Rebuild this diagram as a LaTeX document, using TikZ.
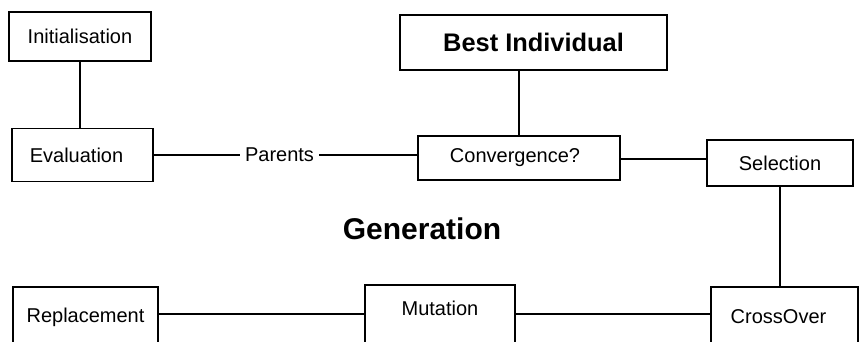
\documentclass[tikz,border=0pt]{standalone}
\usepackage{fontspec}
\setmainfont{Liberation Sans}
\begin{document}
\begin{tikzpicture}[x=1pt,y=-1pt,
  box/.style={draw,line width=1.7pt,rectangle,inner sep=0pt,font=\fontsize{20}{23}\selectfont},
  lbl/.style={inner sep=6pt,font=\fontsize{20}{23}\selectfont},
  conn/.style={line width=1.7pt}]
\useasboundingbox (0,0) rectangle (862,341);
\clip (0,0) rectangle (862,341);
\fill[white] (0,0) rectangle (862,341);
\node[box,minimum width=142pt,minimum height=49pt] (init) at (80,36.5) {Initialisation};
\node[box,minimum width=141pt,minimum height=53pt] (eval) at (82.5,155) {\hspace{-12pt}Evaluation};
\node[box,minimum width=145pt,minimum height=60pt] (repl) at (85.5,317) {Replacement};
\node[box,minimum width=267pt,minimum height=55pt,font=\fontsize{25.4}{29}\selectfont\bfseries] (best) at (533.5,42.5) {Best Individual};
\node[box,minimum width=202pt,minimum height=44pt] (conv) at (519,158) {\hspace{-8pt}Convergence?};
\node[box,minimum width=146pt,minimum height=46pt] (sel) at (780,163) {Selection};
\node[box,minimum width=147pt,minimum height=60pt] (cross) at (784.5,317) {\hspace{-12pt}CrossOver};
\node[box,minimum width=150pt,minimum height=62pt,text depth=16pt] (mut) at (440,316) {Mutation};
\node[lbl,inner sep=5pt] (par) at (279.5,155) {Parents};
\node[font=\fontsize{30}{34}\selectfont\bfseries] (gen) at (422,229) {Generation};
\draw[conn] (init.south) -- (init.south |- eval.north);
\draw[conn] (eval.east) -- (eval.east -| par.west);
\draw[conn] (par.east) -- (par.east -| conv.west);
\draw[conn] (conv.north) -- (conv.north |- best.south);
\draw[conn] ([yshift=-1pt]conv.east) -- ([yshift=-1pt]conv.east -| sel.west);
\draw[conn] (sel.south) -- (sel.south |- cross.north);
\coordinate (r) at ([yshift=3pt]repl.east);
\draw[conn] (r) -- (r -| mut.west);
\draw[conn] (r -| mut.east) -- (r -| cross.west);
\end{tikzpicture}
\end{document}
